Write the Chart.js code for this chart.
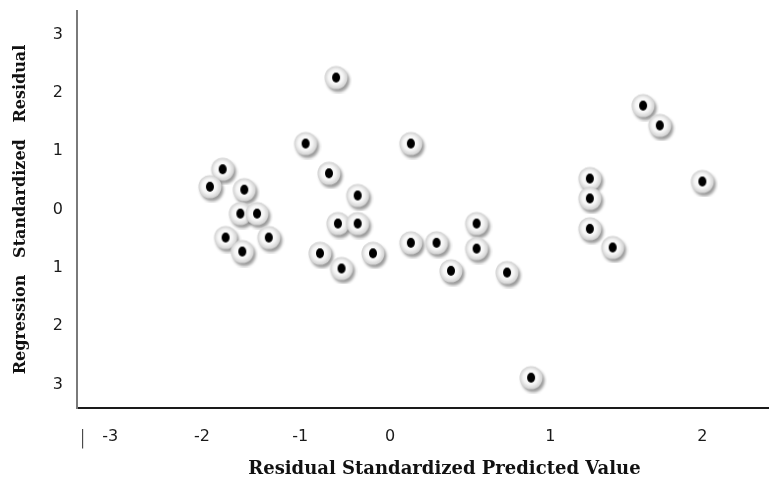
<!DOCTYPE html>
<html>
<head>
<meta charset="utf-8">
<script src="https://cdn.jsdelivr.net/npm/chart.js@4.4.1/dist/chart.umd.min.js"></script>
<style>
  html, body { margin: 0; padding: 0; background: #fff; }
</style>
</head>
<body>
<canvas id="chart" width="771" height="480"></canvas>
<script>
// predicted value (x) and residual (y)
const predicted = [
  -0.60, 1.61, 1.72, -0.94, 0.13, -1.79, -0.68, -1.92, -1.57, 1.26, 2.00,
  -0.36, 1.26, -1.61, -1.44, -0.58, -0.36, 0.54, -1.76, -1.32, 1.26, 0.13,
  0.29, -1.59, -0.78, -0.19, 0.54, 1.41, -0.54, 0.38, 0.73, 0.88
];
const residual = [
  2.26, 1.78, 1.44, 1.13, 1.13, 0.69, 0.62, 0.39, 0.34, 0.53, 0.48,
  0.24, 0.19, -0.07, -0.07, -0.24, -0.24, -0.24, -0.48, -0.48, -0.33, -0.57,
  -0.57, -0.72, -0.75, -0.75, -0.67, -0.65, -1.01, -1.05, -1.08, -2.88
];

const xTickValues = [-3.3, -3, -2, -1, 0, 1, 2];
const xTickLabels = ["|", "-3", "-2", "-1", "0", "1", "2"];
const yTickValues = [-3, -2, -1, 0, 1, 2, 3];
const yTickLabels = ["3", "2", "1", "0", "1", "2", "3"];

// the x labels are not evenly spaced in the original, so the x scale is piecewise
const xStops = [
  [-3.36, 0], [-3, 0.048], [-2, 0.181], [-1, 0.323],
  [0, 0.453], [1, 0.685], [2, 0.905], [2.43, 1]
];

function lookup(v, from, to) {
  let i = 0;
  while (i < xStops.length - 2 && v > xStops[i + 1][from]) i++;
  const a = xStops[i], b = xStops[i + 1];
  return a[to] + (v - a[from]) * (b[to] - a[to]) / (b[from] - a[from]);
}

class PiecewiseScale extends Chart.LinearScale {
  getPixelForValue(value) {
    return this.left + this.width * lookup(value, 0, 1);
  }
  getValueForPixel(pixel) {
    return lookup((pixel - this.left) / this.width, 1, 0);
  }
}
PiecewiseScale.id = "piecewise";
PiecewiseScale.defaults = Chart.LinearScale.defaults;
Chart.register(PiecewiseScale);

function makeDot() {
  const c = document.createElement("canvas");
  c.width = 32;
  c.height = 32;
  const g = c.getContext("2d");
  g.save();
  g.shadowColor = "rgba(0,0,0,0.4)";
  g.shadowOffsetX = 2;
  g.shadowOffsetY = 3;
  g.shadowBlur = 3;
  const grad = g.createRadialGradient(15, 15, 2, 16, 16, 11.5);
  grad.addColorStop(0, "#ffffff");
  grad.addColorStop(0.55, "#f6f6f6");
  grad.addColorStop(1, "#d0d0d0");
  g.fillStyle = grad;
  g.beginPath();
  g.arc(16, 16, 11.5, 0, Math.PI * 2);
  g.fill();
  g.restore();
  g.fillStyle = "#000";
  g.beginPath();
  g.ellipse(16, 16, 4, 5, 0, 0, Math.PI * 2);
  g.fill();
  return c;
}

const points = predicted.map((x, i) => ({ x: x, y: residual[i] }));

new Chart("chart", {
  type: "scatter",
  data: {
    datasets: [
      {
        data: points,
        pointStyle: makeDot(),
        pointRadius: 12,
        pointHoverRadius: 12,
      },
    ],
  },
  options: {
    responsive: false,
    animation: false,
    layout: { autoPadding: false, padding: { top: 11, right: 3, bottom: 0, left: 0 } },
    plugins: { legend: { display: false }, tooltip: { enabled: false } },
    scales: {
      x: {
        type: "piecewise",
        min: -3.36,
        max: 2.43,
        grid: { display: false, drawTicks: false },
        border: { display: true, color: "#1a1a1a", width: 2 },
        afterFit: (s) => {
          s.height = 72;
          s.paddingLeft = 0;
          s.paddingRight = 0;
        },
        afterBuildTicks: (s) => { s.ticks = xTickValues.map((v) => ({ value: v })); },
        ticks: {
          autoSkip: false,
          maxRotation: 0,
          padding: 19,
          color: "#1a1a1a",
          font: (ctx) => ({
            family: "DejaVu Sans",
            size: ctx.index === 0 ? 20 : 16,
            weight: ctx.index === 0 ? "300" : "normal",
          }),
          callback: (v, i) => xTickLabels[i],
        },
        title: {
          display: true,
          text: "       Residual Standardized Predicted Value",
          color: "#111",
          font: { family: "DejaVu Serif", size: 18, weight: "bold" },
          padding: { top: 0, bottom: 0 },
        },
      },
      y: {
        min: -3.4,
        max: 3.4,
        grid: { display: false, drawTicks: false },
        border: { display: true, color: "#7a7a7a", width: 2 },
        afterFit: (s) => {
          s.width = 77;
          s.paddingTop = 0;
          s.paddingBottom = 0;
        },
        afterBuildTicks: (s) => { s.ticks = yTickValues.map((v) => ({ value: v })); },
        ticks: {
          padding: 14,
          color: "#1a1a1a",
          font: { family: "DejaVu Sans", size: 16 },
          callback: (v, i) => yTickLabels[i],
        },
        title: {
          display: true,
          text: "Regression   Standardized   Residual",
          color: "#111",
          font: { family: "DejaVu Serif", size: 16, weight: "bold" },
          padding: { top: 11, bottom: 0 },
        },
      },
    },
  },
});
</script>
</body>
</html>
